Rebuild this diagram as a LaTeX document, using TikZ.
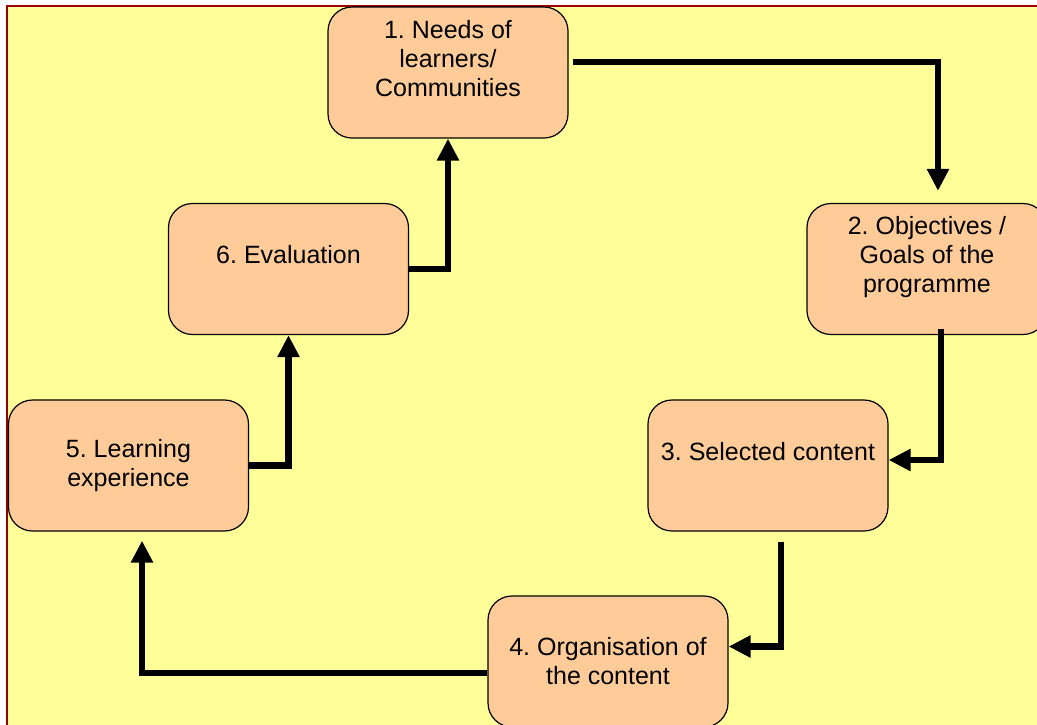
\documentclass[tikz,border=0pt]{standalone}
\usepackage{fontspec}
\setmainfont{Liberation Sans}
\usepackage{xcolor}
\usetikzlibrary{arrows.meta}

\definecolor{paleyellow}{HTML}{FFFF99}
\definecolor{peach}{HTML}{FFCC99}
\definecolor{framered}{HTML}{990000}

\frenchspacing

\begin{document}
\begin{tikzpicture}[
  x=1pt, y=-1pt,
  font=\fontsize{25}{29}\selectfont,
  box/.style={draw, line width=1.2pt, fill=peach, rounded corners=24pt, align=center, minimum width=240pt, minimum height=131pt, inner sep=0pt},
  arrow/.style={-{Triangle[length=22pt, width=21pt]}, line width=6.5pt, line join=miter}
]
\useasboundingbox (0,0) rectangle (1037,724);
\clip (0,0) rectangle (1037,724);
\fill[white] (0,0) rectangle (1037,724);
\draw[framered, line width=2pt, fill=paleyellow] (7,6) rectangle (1080,780);

\node[box] (needs) at (448,72.5) {1. Needs of\\learners/\\Communities\\\mbox{}};
\node[box] (goals) at (927,269) {2. Objectives /\\Goals of the\\programme\\\mbox{}};
\node[box] (content) at (768,465.5) {3. Selected content\\\mbox{}};
\node[box] (organise) at (608,661.5) {4. Organisation of\\the content};
\node[box] (learning) at (128.5,465.5) {5. Learning\\experience};
\node[box] (evaluation) at (288.5,269) {6. Evaluation\\\mbox{}};

% the cycle
\draw[arrow] ([xshift=4pt, yshift=10.5pt]needs.east) -| ([xshift=11pt, yshift=12pt]goals.north);
\draw[arrow] ([xshift=14pt, yshift=6.5pt]goals.south) |- ([yshift=5.5pt]content.east);
\draw[arrow] ([xshift=13pt, yshift=-10pt]content.south) |- ([yshift=15pt]organise.east);
\draw[arrow] ([yshift=-11.5pt]organise.west) -| ([xshift=13.5pt, yshift=-9pt]learning.south);
\draw[arrow] (learning.east) -| (evaluation.south);
\draw[arrow] (evaluation.east) -| (needs.south);

\end{tikzpicture}
\end{document}
